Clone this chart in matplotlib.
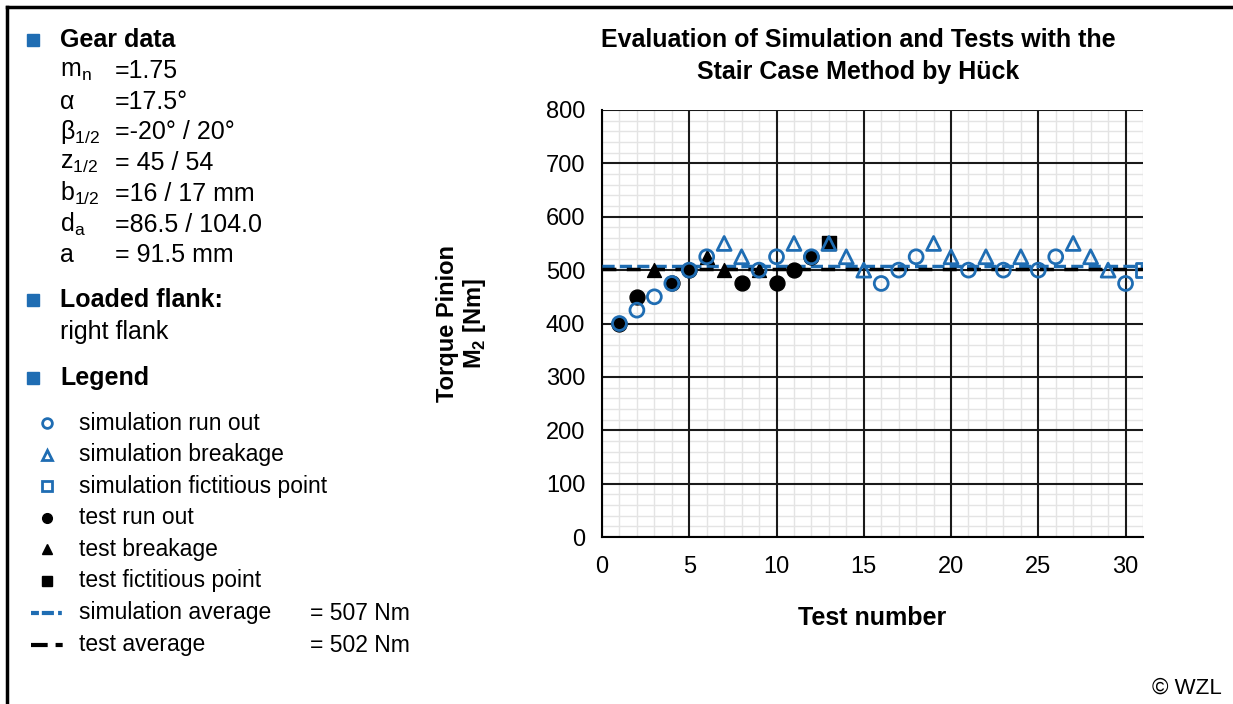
import numpy as np
import matplotlib.pyplot as plt
from matplotlib.lines import Line2D
from matplotlib.patches import Rectangle

plt.rcParams['font.family'] = ['Liberation Sans', 'DejaVu Sans']

BLUE = '#1f6db3'

# Stair case results, torque in Nm per test number
sim_runout_x = [1, 2, 3, 4, 5, 6, 9, 10, 12, 16, 17, 18, 21, 23, 25, 26, 30]
sim_runout_y = [400, 425, 450, 475, 500, 525, 500, 525, 525, 475, 500, 525, 500, 500, 500, 525, 475]
sim_break_x = [7, 8, 11, 13, 14, 15, 19, 20, 22, 24, 27, 28, 29]
sim_break_y = [550, 525, 550, 550, 525, 500, 550, 525, 525, 525, 550, 525, 500]
sim_fict_x = [31]
sim_fict_y = [500]

test_runout_x = [1, 2, 4, 5, 8, 10, 11, 12]
test_runout_y = [400, 450, 475, 500, 475, 475, 500, 525]
test_break_x = [3, 6, 7, 9]
test_break_y = [500, 525, 500, 500]
test_fict_x = [13]
test_fict_y = [550]

sim_avg = 507
test_avg = 502

gear_names = [r'm$_\mathregular{n}$', 'α', r'β$_\mathregular{1/2}$', r'z$_\mathregular{1/2}$',
              r'b$_\mathregular{1/2}$', r'd$_\mathregular{a}$', 'a']
gear_values = ['=1.75', '=17.5°', '=-20° / 20°', '= 45 / 54', '=16 / 17 mm', '=86.5 / 104.0', '= 91.5 mm']

W, H = 1233, 704
fig = plt.figure(figsize=(W / 100, H / 100), dpi=100)
ax = fig.add_axes([602 / W, 1 - 537 / H, (1143 - 602) / W, (537 - 110) / H])


def fx(px):
    return px / W


def fy(py):
    return 1 - py / H


# averages
ax.plot([0, 31], [sim_avg, sim_avg], color=BLUE, lw=2.5, ls=(0, (3.5, 1.5)), zorder=3)
ax.plot([0, 31], [test_avg, test_avg], color='black', lw=2.5, ls=(0, (4, 3)), zorder=3)

ms = 100
ax.scatter(test_runout_x, test_runout_y, s=ms * 1.15, marker='o', color='black', zorder=4)
ax.scatter(test_break_x, test_break_y, s=ms, marker='^', color='black', zorder=4)
ax.scatter(test_fict_x, test_fict_y, s=ms, marker='s', color='black', zorder=4)
ax.scatter(sim_runout_x, sim_runout_y, s=ms, marker='o', facecolor='none', edgecolor=BLUE, lw=2, zorder=5)
ax.scatter(sim_break_x, sim_break_y, s=ms, marker='^', facecolor='none', edgecolor=BLUE, lw=2, zorder=5)
ax.scatter(sim_fict_x, sim_fict_y, s=ms, marker='s', facecolor='none', edgecolor=BLUE, lw=2, zorder=5)

ax.set_xlim(0, 31)
ax.set_ylim(0, 800)
ax.set_xticks(np.arange(0, 31, 5))
ax.set_yticks(np.arange(0, 801, 100))

# fine grid underneath the major grid
xminor = [v for v in range(0, 32) if v % 5]
yminor = [v for v in range(0, 801, 20) if v % 100]
ax.vlines(xminor, 0, 800, color='#e4e4e4', lw=1, zorder=0.1)
ax.hlines(yminor, 0, 31, color='#e4e4e4', lw=1, zorder=0.1)
ax.grid(which='major', color='#1a1a1a', lw=1.5)
ax.set_axisbelow(True)
for s in ['top', 'right']:
    ax.spines[s].set_visible(False)
for s in ['left', 'bottom']:
    ax.spines[s].set_linewidth(1.5)
ax.tick_params(which='both', length=0, labelsize=17, pad=12)
ax.tick_params(axis='x', pad=14)

ax.set_title('Evaluation of Simulation and Tests with the\nStair Case Method by Hück',
             fontsize=18, fontweight='bold', pad=22, linespacing=1.45, x=0.474)
ax.set_xlabel('Test number', fontsize=18, fontweight='bold', labelpad=20)
ax.set_ylabel('Torque Pinion\nM$_\\mathregular{2}$ [Nm]', fontsize=17, fontweight='bold',
              labelpad=42, linespacing=1.1)

# page frame
fig.add_artist(Line2D([fx(7), fx(7)], [0, fy(7)], color='black', lw=2.5))
fig.add_artist(Line2D([fx(7), 1], [fy(7), fy(7)], color='black', lw=2.5))


def bullet(py):
    fig.add_artist(Rectangle((fx(27), fy(py) - 6 / H), 12 / W, 12 / H, color=BLUE))


bullet(40)
fig.text(fx(60), fy(40), 'Gear data', fontsize=18, fontweight='bold', va='center')
for i, (n, v) in enumerate(zip(gear_names, gear_values)):
    py = 71 + i * 30.7
    fig.text(fx(60), fy(py), n, fontsize=18, va='center')
    fig.text(fx(115), fy(py), v, fontsize=18, va='center')

bullet(300)
fig.text(fx(60), fy(300), 'Loaded flank:', fontsize=18, fontweight='bold', va='center')
fig.text(fx(60), fy(332), 'right flank', fontsize=18, va='center')

bullet(378)
fig.text(fx(60), fy(378), 'Legend', fontsize=18, fontweight='bold', va='center')

leg_items = [
    ('o', BLUE, 'none', 'simulation run out'),
    ('^', BLUE, 'none', 'simulation breakage'),
    ('s', BLUE, 'none', 'simulation fictitious point'),
    ('o', 'black', 'black', 'test run out'),
    ('^', 'black', 'black', 'test breakage'),
    ('s', 'black', 'black', 'test fictitious point'),
]
for i, (m, ec, fc, label) in enumerate(leg_items):
    py = 423 + i * 31.6
    fig.add_artist(Line2D([fx(47)], [fy(py)], marker=m, markersize=7, markeredgecolor=ec,
                          markerfacecolor=fc, markeredgewidth=2 if fc == 'none' else 1, ls='none'))
    fig.text(fx(79), fy(py), label, fontsize=16.5, va='center')

fig.add_artist(Line2D([fx(31), fx(64)], [fy(613), fy(613)], color=BLUE, lw=3,
                      ls=(0, (1.9, 0.7, 2.9, 1.0, 0.9, 5))))
fig.text(fx(79), fy(613), 'simulation average', fontsize=16.5, va='center')
fig.text(fx(310), fy(613), '= 507 Nm', fontsize=16.5, va='center')
fig.add_artist(Line2D([fx(31), fx(63)], [fy(645), fy(645)], color='black', lw=3,
                      ls=(0, (4, 1.9, 1.7, 5))))
fig.text(fx(79), fy(645), 'test average', fontsize=16.5, va='center')
fig.text(fx(310), fy(645), '= 502 Nm', fontsize=16.5, va='center')

fig.text(fx(1222), fy(688), '© WZL', fontsize=16, va='center', ha='right')

fig.savefig('out.png', dpi=100)
